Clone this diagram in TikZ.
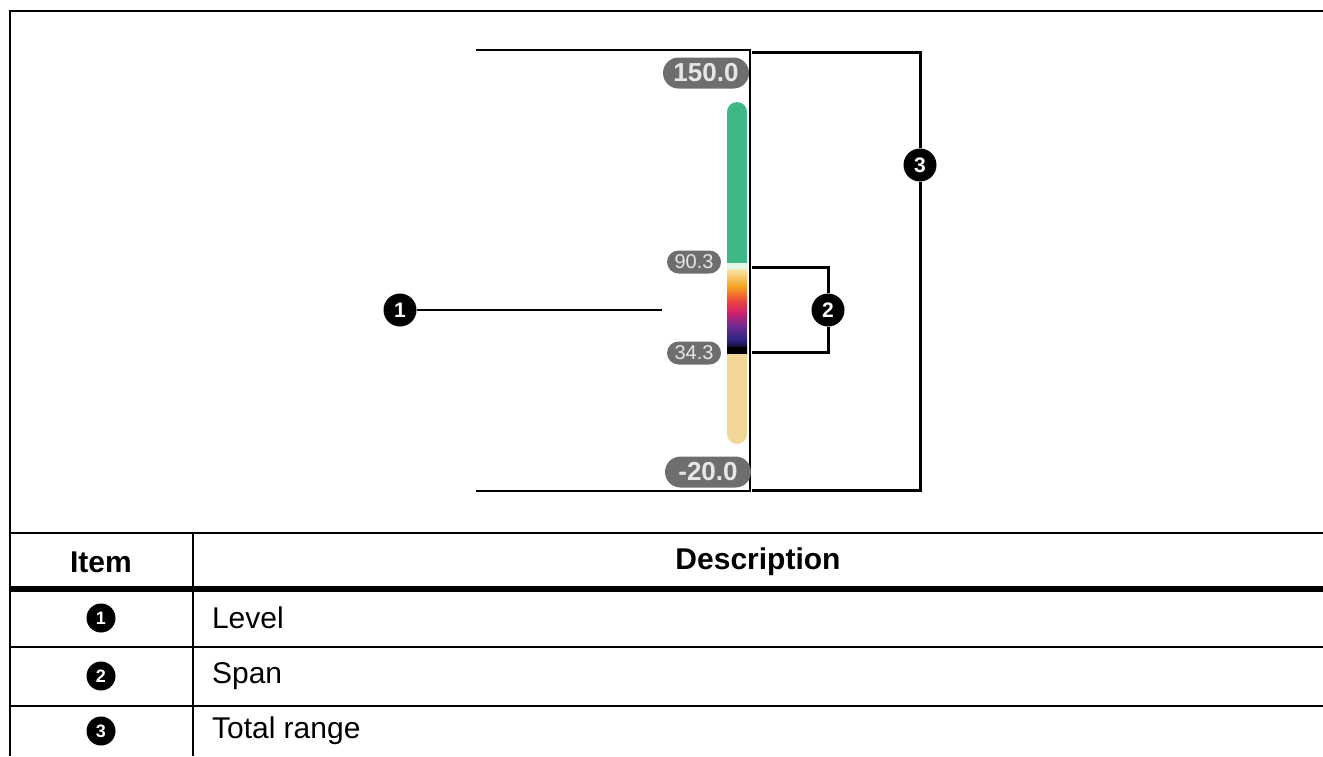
\documentclass[tikz,border=0pt]{standalone}
\usepackage{fontspec}
\setmainfont{Liberation Sans}
\usetikzlibrary{shapes.misc}
\definecolor{colorgreen}{HTML}{3DB886}
\definecolor{colortan}{HTML}{F2D796}
\definecolor{colorpill}{HTML}{6E6E6E}
\definecolor{colorpilltext}{HTML}{E6E6E6}
\tikzset{
    callout mark/.style={circle, fill=black, text=white, inner sep=0pt,
        minimum size=16.5pt, font=\fontsize{10.5}{10.5}\selectfont\bfseries},
    table mark/.style={circle, fill=black, text=white, inner sep=0pt,
        minimum size=14.5pt, font=\fontsize{9}{9}\selectfont\bfseries},
    pill label/.style={rounded rectangle, fill=colorpill, text=colorpilltext,
        inner sep=0pt},
    big pill/.style={pill label, minimum width=43pt, minimum height=15.5pt,
        font=\fontsize{13}{13}\selectfont\bfseries},
    small pill/.style={pill label, minimum width=27pt, minimum height=11.5pt,
        font=\fontsize{10}{10}\selectfont},
    bracket/.style={line width=1.5pt},
    rule/.style={line width=1.2pt},
    cell text/.style={font=\fontsize{15}{18}\selectfont}
}

\begin{document}
\begin{tikzpicture}[x=0.5pt, y=-0.5pt]
        \useasboundingbox (0,0) rectangle (1323,756);

        % frame and table rules
        \draw[rule] (1323,11) -- (10,11) -- (10,756);
        \foreach \y in {533,647,706} {
            \draw[rule] (10,\y) -- (1323,\y);
        }
        \draw[line width=3pt] (10,589) -- (1323,589);
        \draw[rule] (193,533) -- (193,756);

        % screenshot edge
        \draw[line width=0.6pt] (476,50) -- (750,50) -- (750,491) -- (476,491);

        % scale bar
        \fill[colorgreen, rounded corners=5pt] (727,102) rectangle (747,290);
        \fill[colortan, rounded corners=5pt] (727,330) rectangle (747,444);
        \foreach \ya/\yb/\ca/\cb in {263/269/E3F6E6/E3F6E6, 269/286/F8E6A8/F6A623,
            286/300/F6A623/EE4B3B, 300/312/EE4B3B/D2206E, 312/326/D2206E/6E2A92,
            326/340/6E2A92/2A2380, 340/347/2A2380/140E30, 347/353/000000/000000} {
            \definecolor{ctop}{HTML}{\ca}
            \definecolor{cbot}{HTML}{\cb}
            \fill[top color=ctop, bottom color=cbot] (727,\ya) rectangle (747,\yb);
        }

        \node[big pill] (top value) at (706,73) {150.0};
        \node[small pill] (upper value) at (694,262) {90.3};
        \node[small pill] (lower value) at (694,353) {34.3};
        \node[big pill] (bottom value) at (708,472) {-20.0};

        % callouts
        \node[callout mark] (level mark) at (400,310) {1};
        \coordinate (level end) at (662,310);
        \draw[line width=1pt] (level mark) -- (level end);

        \node[callout mark] (span mark) at (828,310) {2};
        \coordinate (span top) at (752,267);
        \coordinate (span bottom) at (752,352);
        \draw[bracket] (span top) -| (span mark.north);
        \draw[bracket] (span mark.south) |- (span bottom);

        \node[callout mark] (range mark) at (920,165) {3};
        \coordinate (range top) at (752,52);
        \coordinate (range bottom) at (752,490);
        \draw[bracket] (range top) -| (range mark.north);
        \draw[bracket] (range mark.south) |- (range bottom);

        % table
        \node[cell text, font=\fontsize{15}{18}\selectfont\bfseries] (item head) at (101,562) {Item};
        \node[cell text, font=\fontsize{15}{18}\selectfont\bfseries] (description head) at (758,562) {Description};
        \foreach \n/\y/\t in {1/618/Level, 2/676/Span, 3/731/Total range} {
            \node[table mark] (row mark \n) at (101,\y) {\n};
            \node[cell text, anchor=west] (row text \n) at (205,\y) {\t};
        }
\end{tikzpicture}
\end{document}
